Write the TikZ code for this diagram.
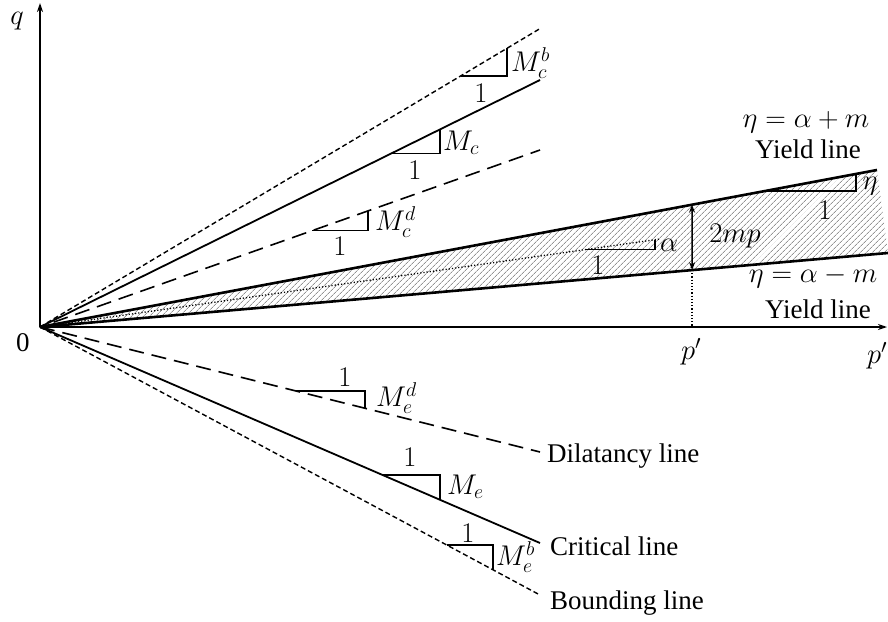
\RequirePackage{fix-cm}
\documentclass[tikz,border=0pt]{standalone}
\usepackage{fontspec}
\setmainfont{Liberation Serif}
\usetikzlibrary{arrows.meta,patterns.meta,calc}
\begin{document}
\begin{tikzpicture}[x=1pt,y=-1pt,
  axisline/.style={line width=1.6pt,-{Stealth[length=9pt,width=6pt]}},
  critline/.style={line width=1.8pt},
  dilline/.style={line width=1.6pt,dash pattern=on 15pt off 8pt},
  bndline/.style={line width=1.4pt,dash pattern=on 5pt off 3pt},
  yldline/.style={line width=2.6pt},
  dotline/.style={line width=1.3pt,dash pattern=on 1.2pt off 2pt},
  slopetri/.style={line width=1.5pt},
  lbl/.style={font=\fontsize{27}{30}\selectfont,inner sep=0pt},
  mlbl/.style={font=\fontsize{28.5}{32}\selectfont,inner sep=0pt}]
\useasboundingbox (0,0) rectangle (888,621);
% key points
\coordinate (O) at (40,327);
\coordinate (Qtop) at (40,3);
\coordinate (Pend) at (887,327);
\coordinate (Bu) at (541,28);
\coordinate (Cu) at (540,80);
\coordinate (Du) at (540,150);
\coordinate (Au) at (660,239);
\coordinate (YU) at (877,170);
\coordinate (YL) at (888,253);
\coordinate (Dl) at (540,452);
\coordinate (Cl) at (540,543);
\coordinate (Bl) at (540,595);
% hatched band
\fill[pattern={Lines[angle=45,distance=4pt,line width=0.5pt]},pattern color=black!65]
  (O) -- (YU) -- (YL) -- cycle;
% axes
\draw[axisline] (O) -- (Qtop);
\draw[axisline] (O) -- (Pend);
% upper lines
\draw[bndline] (O) -- (Bu);
\draw[critline] (O) -- (Cu);
\draw[dilline,dash phase=8.6pt] (O) -- (Du);
\draw[dotline] (O) -- (Au);
\draw[yldline] (O) -- (YU);
\draw[yldline] (O) -- (YL);
% lower lines
\draw[dilline] (O) -- (Dl);
\draw[critline] (O) -- (Cl);
\draw[bndline] (O) -- (Bl);
% slope triangles upper
\coordinate (b1) at ($(O)!0.8403!(Bu)$); \coordinate (b2) at ($(O)!0.9321!(Bu)$);
\draw[slopetri] (b1) -| (b2);
\coordinate (c1) at ($(O)!0.702!(Cu)$); \coordinate (c2) at ($(O)!0.8!(Cu)$);
\draw[slopetri] (c1) -| (c2);
\coordinate (d1) at ($(O)!0.544!(Du)$); \coordinate (d2) at ($(O)!0.656!(Du)$);
\draw[slopetri] (d1) -| (d2);
\coordinate (a1) at ($(O)!0.879!(Au)$); \coordinate (a2) at ($(O)!0.992!(Au)$);
\draw[line width=1.2pt] (a1) -| (a2);
\coordinate (e1) at ($(O)!0.866!(YU)$); \coordinate (e2) at ($(O)!0.975!(YU)$);
\draw[slopetri] (e1) -| (e2);
% slope triangles lower
\coordinate (f1) at ($(O)!0.512!(Dl)$); \coordinate (f2) at ($(O)!0.65!(Dl)$);
\draw[slopetri] (f1) -| (f2);
\coordinate (g1) at ($(O)!0.686!(Cl)$); \coordinate (g2) at ($(O)!0.8!(Cl)$);
\draw[slopetri] (g1) -| (g2);
\coordinate (h1) at ($(O)!0.814!(Bl)$); \coordinate (h2) at ($(O)!0.906!(Bl)$);
\draw[slopetri] (h1) -| (h2);
% 2mp arrow and p' marker
\coordinate (mU) at ($(O)!0.779!(YU)$);
\coordinate (mL) at ($(O)!0.769!(YL)$);
\coordinate (mAx) at (mL |- O);
\draw[line width=1.5pt,{Stealth[length=8pt,width=6pt]}-{Stealth[length=8pt,width=6pt]}] (mU) -- (mL);
\draw[dotline] (mL) -- (mAx);
% labels
\node[mlbl,anchor=base] (lq) at (17,24) {$q$};
\node[lbl] (l0) at (23,343) {0};
\node[mlbl] (lp1) at (691,352) {$p'$};
\node[mlbl] (lp2) at (877,356) {$p'$};
\node[mlbl,anchor=west] (lMcb) at (511,63) {$M_c^b$};
\node[mlbl] (n1a) at (481,93) {$1$};
\node[mlbl,anchor=west] (lMc) at (443,143) {$M_c$};
\node[mlbl] (n1b) at (415,170) {$1$};
\node[mlbl,anchor=west] (lMcd) at (375,222) {$M_c^d$};
\node[mlbl] (n1c) at (340,246) {$1$};
\node[mlbl,anchor=west] (lal) at (660,245) {$\alpha$};
\node[mlbl] (n1d) at (598,265) {$1$};
\node[mlbl] (leta) at (870,186) {$\eta$};
\node[mlbl] (n1e) at (825,210) {$1$};
\node[mlbl] (l2mp) at (735,236) {$2mp$};
\node[mlbl,anchor=base] (lyu1) at (806,127) {$\eta=\alpha+m$};
\node[lbl,anchor=base] (lyu2) at (808,158) {Yield line};
\node[mlbl,anchor=base] (lyl1) at (813,282) {$\eta=\alpha-m$};
\node[lbl,anchor=base] (lyl2) at (818,318) {Yield line};
\node[mlbl] (n1f) at (345,377) {$1$};
\node[mlbl,anchor=west] (lMed) at (376,398) {$M_e^d$};
\node[mlbl] (n1g) at (410,457) {$1$};
\node[mlbl,anchor=west] (lMe) at (447,487) {$M_e$};
\node[mlbl] (n1h) at (468,533) {$1$};
\node[mlbl,anchor=west] (lMeb) at (496,557) {$M_e^b$};
\node[lbl,anchor=base west] (ldil) at (547,462) {Dilatancy line};
\node[lbl,anchor=base west] (lcrit) at (550,555) {Critical line};
\node[lbl,anchor=base west] (lbnd) at (550,609) {Bounding line};
\end{tikzpicture}
\end{document}
